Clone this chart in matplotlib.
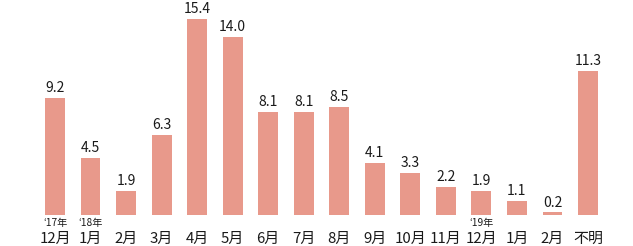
import numpy as np
import matplotlib
matplotlib.use("Agg")
import matplotlib.pyplot as plt
import matplotlib.transforms as mtransforms

plt.rcParams['font.family'] = ['Noto Sans CJK JP', 'DejaVu Sans']

# data
months = ['12月', '1月', '2月', '3月', '4月', '5月', '6月', '7月',
          '8月', '9月', '10月', '11月', '12月', '1月', '2月', '不明']
values = [9.2, 4.5, 1.9, 6.3, 15.4, 14.0, 8.1, 8.1,
          8.5, 4.1, 3.3, 2.2, 1.9, 1.1, 0.2, 11.3]
year_marks = {0: '‘17年', 1: '‘18年', 12: '‘19年'}

bar_color = '#E8998B'

fig = plt.figure(figsize=(6.33, 2.46), dpi=100)
px_per_unit = 12.75
ax = fig.add_axes([37.25 / 633, 31 / 246, 568.5 / 633, 15.4 * px_per_unit / 246])

x = np.arange(len(values))
ax.bar(x, values, width=0.56, color=bar_color)

# value labels above bars
offset = mtransforms.ScaledTranslation(0, 2.5 / 100, fig.dpi_scale_trans)
for xi, v in zip(x, values):
    ax.text(xi, v, f'{v:.1f}', ha='center', va='bottom', fontsize=10,
            color='#1a1a1a', clip_on=False, transform=ax.transData + offset)

ax.set_xlim(-0.5, len(values) - 0.5)
ax.set_ylim(0, 15.4)
ax.set_xticks(x)
ax.set_xticklabels(months, fontsize=10.8, color='#1a1a1a')
ax.tick_params(axis='x', length=0, pad=12)
ax.set_yticks([])
for s in ax.spines.values():
    s.set_visible(False)

# year marks between bars and month labels
trans = mtransforms.blended_transform_factory(ax.transData, fig.transFigure)
for i, lab in year_marks.items():
    ax.text(i, 1 - 223 / 246, lab, ha='center', va='center', fontsize=7.3,
            color='#1a1a1a', transform=trans, clip_on=False)

fig.savefig('out.png', dpi=100)
